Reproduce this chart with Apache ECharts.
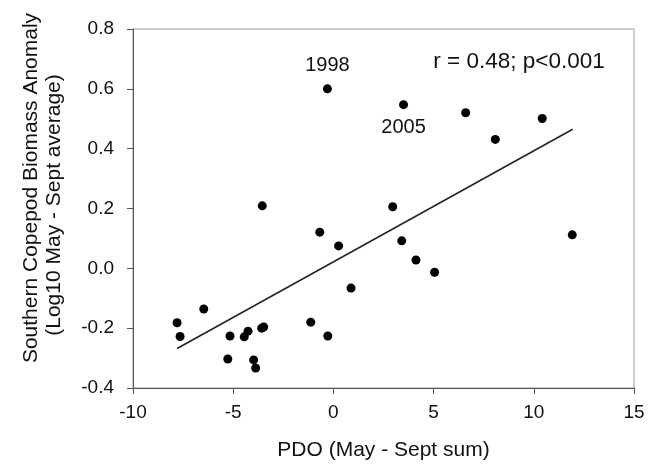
<!DOCTYPE html>
<html>
<head>
<meta charset="utf-8">
<script src="https://cdn.jsdelivr.net/npm/echarts@6/dist/echarts.min.js"></script>
<style>
html,body{margin:0;padding:0;background:#fff;}
#chart{width:661px;height:468px;}
</style>
</head>
<body>
<div id="chart"></div>
<script>
// PDO (May - Sept sum)
const pdo = [-3.55, 2.96, -0.68, 0.26, 3.41, 11.92, 4.12, 5.05, 0.88, -6.47, -7.80, -7.65, -5.16, -5.27, -4.45, -4.26, -3.58, -3.48, -3.98, -3.88, -1.13, -0.28, -0.30, 3.50, 6.60, 10.42, 8.08];
// Southern copepod biomass anomaly
const biomass = [0.209, 0.206, 0.121, 0.075, 0.092, 0.112, 0.028, -0.013, -0.066, -0.136, -0.182, -0.228, -0.226, -0.303, -0.229, -0.210, -0.200, -0.196, -0.306, -0.333, -0.180, -0.226, 0.600, 0.547, 0.520, 0.501, 0.431];
// point labels (index into arrays)
const pointLabels = [{ index: 22, text: '1998' }, { index: 23, text: '2005' }];
// regression line end points
const fitX = [-7.80, 11.94];
const fitY = [-0.268, 0.465];
const xTicks = [-10, -5, 0, 5, 10, 15];
const yTicks = [-0.4, -0.2, 0.0, 0.2, 0.4, 0.6, 0.8];
const statText = 'r = 0.48; p<0.001';
const xTitle = 'PDO (May - Sept sum)';
const yTitle1 = 'Southern Copepod Biomass Anomaly';
const yTitle2 = '(Log10 May - Sept average)';

const FONT = "'Liberation Sans', Arial, Helvetica, sans-serif";
const TXT = '#111';

const labelPos = { '1998': { position: 'top', distance: 9 }, '2005': { position: 'bottom', distance: 8 } };

const scatterData = pdo.map((x, i) => {
  const lab = pointLabels.find(p => p.index === i);
  const item = { value: [x, biomass[i]] };
  if (lab) {
    item.label = {
      show: true,
      formatter: lab.text,
      position: labelPos[lab.text].position,
      distance: labelPos[lab.text].distance,
      fontSize: 20,
      color: TXT,
      opacity: 1,
      fontFamily: FONT
    };
  }
  return item;
});

const chart = echarts.init(document.getElementById('chart'), null, { renderer: 'canvas' });
chart.setOption({
  animation: false,
  backgroundColor: '#fff',
  grid: { left: 133, right: 27, top: 29, bottom: 80, show: true, borderColor: '#9a9a9a', borderWidth: 1 },
  xAxis: {
    type: 'value',
    min: xTicks[0], max: xTicks[xTicks.length - 1], interval: 5,
    name: xTitle, nameLocation: 'middle', nameGap: 52,
    nameTextStyle: { fontSize: 21, color: TXT, fontFamily: FONT },
    axisLine: { show: true, onZero: false, lineStyle: { color: '#555', width: 1 } },
    axisTick: { show: true, inside: false, length: 6, lineStyle: { color: '#555' } },
    axisLabel: { margin: 15, fontSize: 19, color: TXT, fontFamily: FONT },
    splitLine: { show: false }
  },
  yAxis: {
    type: 'value',
    min: yTicks[0], max: yTicks[yTicks.length - 1], interval: 0.2,
    axisLine: { show: true, onZero: false, lineStyle: { color: '#555', width: 1 } },
    axisTick: { show: true, inside: false, length: 6, lineStyle: { color: '#555' } },
    axisLabel: { margin: 19, fontSize: 19, color: TXT, fontFamily: FONT, formatter: v => v.toFixed(1) },
    splitLine: { show: false }
  },
  graphic: [
    {
      type: 'text', x: 519, y: 62,
      style: { text: statText, fill: TXT, font: '22.5px ' + FONT, align: 'center', verticalAlign: 'middle' }
    },
    {
      type: 'text', x: 31, y: 188, rotation: Math.PI / 2,
      style: { text: yTitle1, fill: TXT, font: '21px ' + FONT, align: 'center', verticalAlign: 'middle' }
    },
    {
      type: 'text', x: 54, y: 205, rotation: Math.PI / 2,
      style: { text: yTitle2, fill: TXT, font: '21px ' + FONT, align: 'center', verticalAlign: 'middle' }
    }
  ],
  series: [
    {
      type: 'line',
      data: fitX.map((x, i) => [x, fitY[i]]),
      symbol: 'none',
      lineStyle: { color: '#222', width: 1.5 },
      z: 2
    },
    {
      type: 'scatter',
      data: scatterData,
      symbol: 'circle',
      symbolSize: 9,
      itemStyle: { color: '#000', opacity: 1 },
      z: 3
    }
  ]
});
</script>
</body>
</html>
